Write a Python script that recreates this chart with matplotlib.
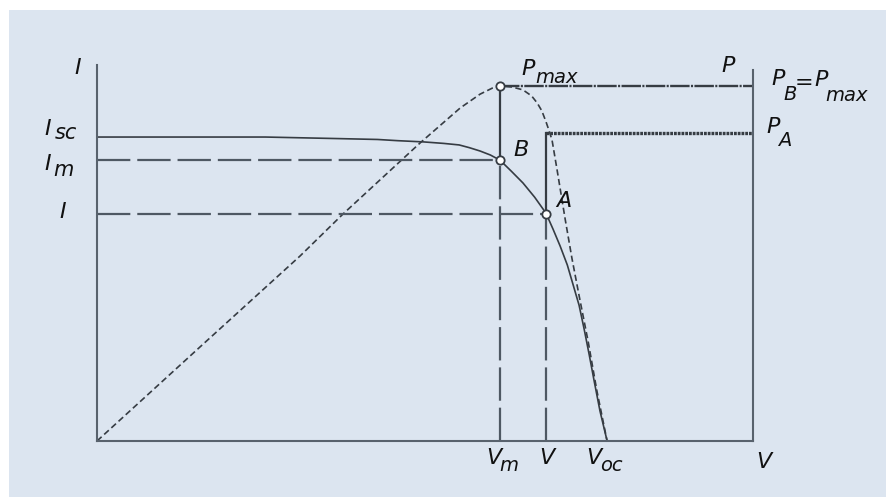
import matplotlib
matplotlib.use("Agg")
import matplotlib.pyplot as plt
from matplotlib.patches import Rectangle

plt.rcParams['font.family'] = ['DejaVu Sans']
plt.rcParams['lines.scale_dashes'] = False

# values (V: Voc = 1, I: Isc = 1, P: Pmax = 1)
v_iv = [0.0, 0.33, 0.47, 0.55, 0.59, 0.64, 0.68, 0.71, 0.73, 0.751, 0.771, 0.79,
        0.812, 0.835, 0.858, 0.88, 0.894, 0.908, 0.922, 0.933, 0.945, 0.955, 0.965,
        0.975, 0.986, 1.0]
i_iv = [1.0, 1.0, 0.995, 0.992, 0.988, 0.984, 0.979, 0.974, 0.965, 0.954, 0.941, 0.924,
        0.888, 0.849, 0.802, 0.75, 0.697, 0.641, 0.579, 0.516, 0.447, 0.368, 0.283,
        0.194, 0.099, 0.0]

v_p = [0.0, 0.202, 0.398, 0.482, 0.633, 0.712, 0.751, 0.775, 0.79, 0.814, 0.835,
       0.852, 0.863, 0.872, 0.88, 0.886, 0.892, 0.902, 0.918, 0.931, 0.945, 0.963, 0.98, 1.0]
p_p = [0.0, 0.265, 0.521, 0.639, 0.839, 0.938, 0.977, 0.994, 1.0, 0.997, 0.989,
       0.972, 0.952, 0.93, 0.9, 0.875, 0.848, 0.763, 0.623, 0.515, 0.41, 0.279, 0.141, 0.0]

Vm, Va, Voc, Vend = 0.79, 0.88, 1.0, 1.286
Isc, Im, Ia = 1.0, 0.924, 0.747
Pmax, Pa = 1.0, 0.868
i_top, p_right_top = 1.237, 1.045
p_to_i = 1.168   # P units -> I units on the drawing

bg = '#dce5f0'
axis_c = '#58626d'
line_c = '#363c43'
dash_c = '#4e5863'
txt_c = '#111111'

fig = plt.figure(figsize=(8.86, 4.97), dpi=100, facecolor='white')
fig.patches.append(Rectangle((9 / 886, 0), 1, 487 / 497, transform=fig.transFigure,
                             facecolor=bg, edgecolor='none', zorder=-10))

ax = fig.add_axes([97 / 886, 56 / 497, 656 / 886, 376 / 497])
ax.set_facecolor('none')
ax.set_xlim(0, Vend)
ax.set_ylim(0, i_top)
ax.set_xticks([])
ax.set_yticks([])
ax.spines['top'].set_visible(False)
for s in ['left', 'bottom', 'right']:
    ax.spines[s].set_color(axis_c)
    ax.spines[s].set_linewidth(1.5)
ax.spines['right'].set_bounds(0, p_right_top * p_to_i)

long_dash = (0, (24, 5))

# I-V curve and P-V curve
ax.plot(v_iv, i_iv, color=line_c, lw=1.2, clip_on=False)
ax.plot(v_p, [p * p_to_i for p in p_p], color=line_c, lw=1.2,
        linestyle=(0, (4.5, 2.5)), clip_on=False)

# guide lines
ax.plot([0, Vm], [Im, Im], color=dash_c, lw=1.6, linestyle=long_dash)
ax.plot([0, Va], [Ia, Ia], color=dash_c, lw=1.6, linestyle=long_dash)
ax.plot([Vm, Vm], [0, Im], color=dash_c, lw=1.6, linestyle=long_dash)
ax.plot([Va, Va], [0, Ia], color=dash_c, lw=1.6, linestyle=long_dash)
ax.plot([Vm, Vm], [Im, Pmax * p_to_i], color=line_c, lw=1.6)
ax.plot([Va, Va], [Ia, Pa * p_to_i], color=line_c, lw=1.6)
ax.plot([Vm, Vend], [Pmax * p_to_i] * 2, color=line_c, lw=1.7,
        linestyle=(0, (14, 1, 1.5, 1)))
ax.plot([Va, Vend], [Pa * p_to_i] * 2, color=line_c, lw=2.4,
        linestyle=(0, (2, 0.7)))

# points
ax.plot([Vm, Vm, Va], [Pmax * p_to_i, Im, Ia], 'o', ms=6, mfc='white',
        mec=line_c, mew=1.3, zorder=5, clip_on=False)


def put(txt, xy, off, size=16):
    ax.annotate(txt, xy=xy, xytext=off, textcoords='offset pixels',
                ha='center', va='center', fontsize=size, style='italic',
                color=txt_c, annotation_clip=False)


sub = 14
put('I', (0, i_top), (-19.5, -2.5))
put('I', (0, Isc), (-49, 8.5))
put('sc', (0, Isc), (-31, 4.5), 15)
put('I', (0, Im), (-49, -3.5))
put('m', (0, Im), (-34, -9.5), 15)
put('I', (0, Ia), (-34.5, 1.5))

put('P', (Vm, Pmax * p_to_i), (28, 16.5))
put('max', (Vm, Pmax * p_to_i), (57, 8.5), sub)
put('P', (Vend, p_right_top * p_to_i), (-25, 4))
put('P', (Vend, Pmax * p_to_i), (25, 7))
put('B', (Vend, Pmax * p_to_i), (37, -9), sub)
put('=', (Vend, Pmax * p_to_i), (51, 2.5))
put('P', (Vend, Pmax * p_to_i), (68, 6))
put('max', (Vend, Pmax * p_to_i), (94, -10), sub)
put('P', (Vend, Pa * p_to_i), (20.5, 5.5))
put('A', (Vend, Pa * p_to_i), (32, -7.5), sub)

put('B', (Vm, Im), (21, 10))
put('A', (Va, Ia), (18, 13))

put('V', (Vm, 0), (-6.5, -17.5))
put('m', (Vm, 0), (8.5, -24.5), sub)
put('V', (Va, 0), (1, -17.5))
put('V', (Voc, 0), (-13.5, -16.5))
put('oc', (Voc, 0), (4, -24.5), sub)
put('V', (Vend, 0), (11, -21))

fig.savefig('out.png', dpi=100, facecolor='white')
